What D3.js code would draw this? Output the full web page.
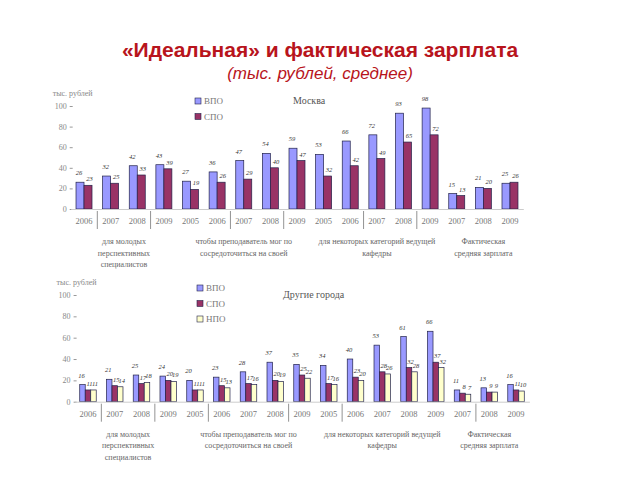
<!DOCTYPE html>
<html><head><meta charset="utf-8">
<script src="https://cdn.jsdelivr.net/npm/d3@7"></script>
<style>body{margin:0;background:#fff}svg{display:block}</style>
</head><body>
<svg id="c" width="640" height="480"></svg>
<script>
const years = ["2006","2007","2008","2009","2005","2006","2007","2008","2009","2005","2006","2007","2008","2009","2007","2008","2009"];
const categoryNames = [
  ["для молодых","перспективных","специалистов"],
  ["чтобы преподаватель мог по","сосредоточиться на своей"],
  ["для некоторых категорий ведущей","кафедры"],
  ["Фактическая","средняя зарплата"]
];
const categorySizes = [4,5,5,3];
const seriesNames = ["ВПО","СПО","НПО"];
const moscowVPO = [26,32,42,43,27,36,47,54,59,53,66,72,93,98,15,21,25];
const moscowSPO = [23,25,33,39,19,26,29,40,47,32,42,49,65,72,13,20,26];
const otherVPO = [16,21,25,24,20,23,28,37,35,34,40,53,61,66,11,13,16];
const otherSPO = [11,15,17,20,11,15,17,20,25,17,23,28,32,37,8,9,11];
const otherNPO = [11,14,18,19,11,13,16,19,22,16,20,26,28,32,7,9,10];
const yTicks = [0,20,40,60,80,100];
const colors = ["#9999FF","#993366","#FFFFCC"];

const svg = d3.select("#c");
const serif = "'Liberation Serif','DejaVu Serif',serif";

svg.append("text").attr("x",320).attr("y",57).attr("text-anchor","middle")
  .attr("font-family","'Liberation Sans',Arial,sans-serif").attr("font-weight","bold")
  .attr("font-size",21).attr("fill","#B8141C").text("«Идеальная» и фактическая зарплата");
svg.append("text").attr("x",320).attr("y",79).attr("text-anchor","middle")
  .attr("font-family","'Liberation Sans',Arial,sans-serif").attr("font-style","italic")
  .attr("font-size",17).attr("fill","#B8141C").text("(тыс. рублей, среднее)");

function panel(cfg){
  const g = svg.append("g");
  const x = d3.scaleBand().domain(d3.range(years.length)).range(cfg.xr).paddingInner(0).paddingOuter(0);
  const y = d3.scaleLinear().domain([0,100]).range([cfg.y0, cfg.y100]);
  const n = cfg.series.length;
  const inner = d3.scaleBand().domain(d3.range(n)).range([(x.bandwidth()-cfg.bw*n)/2,(x.bandwidth()+cfg.bw*n)/2]);

  // y axis
  const ya = d3.axisLeft(y).tickValues(yTicks).tickSize(3).tickPadding(3);
  const ax = g.append("g").attr("transform",`translate(${cfg.xr[0]+2},0)`).call(ya);
  ax.select(".domain").remove();
  ax.selectAll("line").attr("stroke","#999");
  ax.selectAll("text").attr("font-family",serif).attr("font-size",8).attr("fill","#888");
  g.append("text").attr("x",cfg.xr[0]-18).attr("y",cfg.y100-10).attr("font-family",serif)
    .attr("font-size",8).attr("fill","#888").text("тыс. рублей");

  // bars
  cfg.series.forEach((vals,s)=>{
    g.selectAll(null).data(vals).join("rect")
      .attr("x",(d,i)=>x(i)+inner(s)).attr("width",inner.bandwidth())
      .attr("y",d=>y(d)).attr("height",d=>cfg.y0-y(d))
      .attr("fill",colors[s]).attr("stroke","#22224a").attr("stroke-width",0.7);
    g.selectAll(null).data(vals).join("text")
      .attr("x",(d,i)=>x(i)+inner(s)+inner.bandwidth()/2 + (s===0?-1:1.5))
      .attr("y",d=>y(d)-(s===0?7:4)).attr("text-anchor","middle")
      .attr("font-family",serif).attr("font-style","italic").attr("font-size",6.5)
      .attr("fill","#333").text(d=>d);
  });

  // x axis labels
  const xa = d3.axisBottom(x).tickFormat(i=>years[i]).tickSize(0).tickPadding(9);
  const xg = g.append("g").attr("transform",`translate(0,${cfg.y0})`).call(xa);
  xg.select(".domain").attr("stroke","#ccc");
  xg.selectAll("text").attr("font-family",serif).attr("font-size",8.5).attr("fill","#777");
  cfg.seps.forEach(i=>{
    const sx = x(i)+x.bandwidth();
    g.append("line").attr("x1",sx).attr("x2",sx).attr("y1",cfg.y0+2).attr("y2",cfg.y0+20)
      .attr("stroke","#777").attr("stroke-width",0.8);
  });

  // category labels
  let start = 0;
  categoryNames.forEach((lines,c)=>{
    const end = start + categorySizes[c] - 1;
    const cx = (x(start) + x(end) + x.bandwidth())/2;
    lines.forEach((t,k)=>{
      g.append("text").attr("x",cx).attr("y",cfg.y0+35+k*11.5).attr("text-anchor","middle")
        .attr("font-family",serif).attr("font-size",8).attr("fill","#666").text(t);
    });
    start = end + 1;
  });

  // legend
  cfg.series.forEach((v,s)=>{
    g.append("rect").attr("x",cfg.lx).attr("y",cfg.ly+s*15.5-3).attr("width",6).attr("height",6)
      .attr("fill",colors[s]).attr("stroke","#22224a").attr("stroke-width",0.6);
    g.append("text").attr("x",cfg.lx+9).attr("y",cfg.ly+s*15.5+3).attr("font-family",serif)
      .attr("font-size",9).attr("fill","#777").text(seriesNames[s]);
  });
  g.append("text").attr("x",cfg.tx).attr("y",cfg.ty).attr("font-family",serif)
    .attr("font-size",10).attr("fill","#555").text(cfg.title);
}

panel({series:[moscowVPO,moscowSPO], xr:[70.7,523.3], y0:209, y100:106, bw:8,
  seps:[0,2,5,7,10,12], lx:195, ly:101, tx:293, ty:104, title:"Москва"});
panel({series:[otherVPO,otherSPO,otherNPO], xr:[74.6,529.4], y0:401.7, y100:295, bw:5.5,
  seps:[0,2,4,7,9,14], lx:197, ly:288, tx:283, ty:298, title:"Другие города"});
</script>
</body></html>
